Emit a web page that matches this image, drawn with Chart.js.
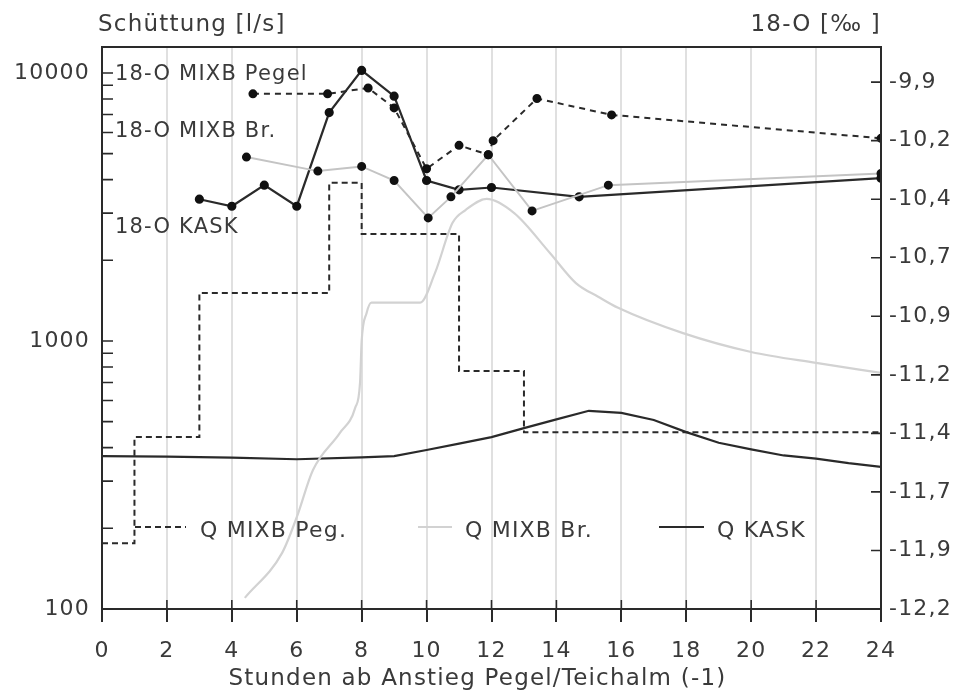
<!DOCTYPE html>
<html><head><meta charset="utf-8">
<script src="https://cdn.jsdelivr.net/npm/chart.js@4.4.1/dist/chart.umd.min.js"></script>
<style>html,body{margin:0;padding:0;background:#fff;}#wrap{position:relative;width:968px;height:692px;}</style>
</head><body><div id="wrap"><canvas id="c" width="968" height="692"></canvas></div>
<script>
// ---- data (hours after rise of gauge) ----
const hoursQPeg = [0, 1, 3, 7, 8, 11, 13, 24];
const qMixbPeg  = [176, 438, 1510, 3890, 2505, 773, 457, 457];

const hoursQBr = [4.4, 5.55, 6.0, 6.5, 7.33, 7.8, 7.95, 8.0, 8.15, 8.3, 9.8, 10.26, 10.8, 11.2, 11.85, 12.7, 13.8, 14.6, 15.3, 15.9, 17.9, 20, 22, 24];
const qMixbBr  = [110, 162, 220, 330, 454, 563, 700, 1000, 1270, 1390, 1390, 1795, 2760, 3080, 3390, 3000, 2130, 1645, 1460, 1330, 1070, 910, 828, 760];

const hoursQKask = [0, 2, 4, 6, 8, 9, 10, 11, 12, 13, 14, 15, 16, 17, 18, 19, 20, 21, 22, 23, 24];
const qKask      = [372, 370, 367, 362, 368, 372, 392, 414, 438, 473, 510, 549, 539, 507, 457, 417, 394, 374, 364, 350, 339];

const hoursOPeg    = [4.65, 6.95, 8.2, 9.0, 10.0, 11.0, 11.9, 12.05, 13.4, 15.7, 24];
const o18MixbPegel = [-10.0, -10.0, -9.975, -10.06, -10.32, -10.22, -10.26, -10.2, -10.02, -10.09, -10.19];

const hoursOBr  = [4.45, 6.65, 8.0, 9.0, 10.05, 10.75, 11.9, 13.25, 15.6, 24];
const o18MixbBr = [-10.27, -10.33, -10.31, -10.37, -10.53, -10.44, -10.26, -10.5, -10.39, -10.34];

const hoursOKask = [3, 4, 5, 6, 7, 8, 9, 10, 11, 12, 14.7, 24];
const o18Kask    = [-10.45, -10.48, -10.39, -10.48, -10.08, -9.9, -10.01, -10.37, -10.41, -10.4, -10.44, -10.36];

const leftTickValues  = [100,200,300,400,500,600,700,800,900,1000,2000,3000,4000,5000,6000,7000,8000,9000,10000];
const leftTickLabels  = {100:'100', 1000:'1000', 10000:'10000'};
const rightTickValues = [-12.2,-11.95,-11.7,-11.45,-11.2,-10.95,-10.7,-10.45,-10.2,-9.95];
const rightTickLabels = ['-12,2','-11,9','-11,7','-11,4','-11,2','-10,9','-10,7','-10,4','-10,2','-9,9'];

const xTitle = 'Stunden ab Anstieg Pegel/Teichalm (-1)';
const leftTitle = 'Schüttung [l/s]';
const rightTitle = '18-O [‰ ]';
const seriesNotes = ['18-O MIXB Pegel', '18-O MIXB Br.', '18-O KASK'];
const legendNames = ['Q MIXB Peg.', 'Q MIXB Br.', 'Q KASK'];

const pts = (xs, ys) => xs.map((x, i) => ({x: x, y: ys[i]}));
const FONT = 'DejaVu Sans';
const INK = '#2a2a2a';
const TXT = '#3a3a3a';
const SPACING = '1.2px';

const spacing = {
  id: 'spacing',
  beforeLayout(chart) { chart.ctx.letterSpacing = SPACING; },
  beforeDraw(chart) { chart.ctx.letterSpacing = SPACING; }
};

const decor = {
  id: 'decor',
  afterDraw(chart) {
    const ctx = chart.ctx, a = chart.chartArea;
    const xs = chart.scales.x, yl = chart.scales.y, yr = chart.scales.yR;
    ctx.save();
    ctx.letterSpacing = SPACING;
    // frame
    ctx.strokeStyle = INK; ctx.lineWidth = 2; ctx.setLineDash([]);
    ctx.strokeRect(a.left, a.top, a.right - a.left, a.bottom - a.top);
    // inner tick marks
    ctx.lineWidth = 1.6;
    ctx.beginPath();
    xs.ticks.forEach(t => { const px = xs.getPixelForValue(t.value); ctx.moveTo(px, a.bottom); ctx.lineTo(px, a.bottom - 9); });
    yl.ticks.forEach(t => { const py = yl.getPixelForValue(t.value); ctx.moveTo(a.left, py); ctx.lineTo(a.left + 11, py); });
    yr.ticks.forEach(t => { const py = yr.getPixelForValue(t.value); ctx.moveTo(a.right, py); ctx.lineTo(a.right - 10, py); });
    ctx.stroke();
    // titles
    ctx.fillStyle = TXT;
    ctx.font = '23px "' + FONT + '"';
    ctx.textBaseline = 'middle';
    ctx.textAlign = 'left';
    ctx.fillText(leftTitle, a.left - 4, 25);
    ctx.textAlign = 'right';
    ctx.fillText(rightTitle, a.right, 25);
    ctx.textAlign = 'center';
    ctx.fillText(xTitle, a.left + (a.right - a.left) * 0.482, 679);
    // series notes
    ctx.textAlign = 'left';
    ctx.font = '21px "' + FONT + '"';
    ctx.fillText(seriesNotes[0], a.left + 13, 75);
    ctx.fillText(seriesNotes[1], a.left + 13, 132);
    ctx.fillText(seriesNotes[2], a.left + 13, 228);
    // bottom legend
    ctx.font = '22px "' + FONT + '"';
    const ly = 527;
    ctx.lineWidth = 2;
    ctx.strokeStyle = INK; ctx.setLineDash([6, 4]);
    ctx.beginPath(); ctx.moveTo(a.left + 33, ly); ctx.lineTo(a.left + 84, ly); ctx.stroke();
    ctx.strokeStyle = '#d2d2d2'; ctx.setLineDash([]);
    ctx.beginPath(); ctx.moveTo(a.left + 316, ly); ctx.lineTo(a.left + 350, ly); ctx.stroke();
    ctx.strokeStyle = INK;
    ctx.beginPath(); ctx.moveTo(a.left + 557, ly); ctx.lineTo(a.left + 602, ly); ctx.stroke();
    ctx.fillText(legendNames[0], a.left + 98, ly + 4);
    ctx.fillText(legendNames[1], a.left + 363, ly + 4);
    ctx.fillText(legendNames[2], a.left + 615, ly + 4);
    ctx.restore();
  }
};

new Chart(document.getElementById('c'), {
  type: 'line',
  data: {
    datasets: [
      { label: seriesNotes[0], data: pts(hoursOPeg, o18MixbPegel), yAxisID: 'yR', borderColor: INK, borderWidth: 2, borderDash: [6, 5],
        pointRadius: 3.5, pointBackgroundColor: '#111', pointBorderColor: '#111', tension: 0 },
      { label: seriesNotes[1], data: pts(hoursOBr, o18MixbBr), yAxisID: 'yR', borderColor: '#c4c4c4', borderWidth: 2,
        pointRadius: 3.5, pointBackgroundColor: '#111', pointBorderColor: '#111', tension: 0 },
      { label: seriesNotes[2], data: pts(hoursOKask, o18Kask), yAxisID: 'yR', borderColor: INK, borderWidth: 2.2,
        pointRadius: 3.5, pointBackgroundColor: '#111', pointBorderColor: '#111', tension: 0 },
      { label: legendNames[0], data: pts(hoursQPeg, qMixbPeg), yAxisID: 'y', borderColor: INK, borderWidth: 2, borderDash: [6, 4],
        stepped: 'before', pointRadius: 0 },
      { label: legendNames[1], data: pts(hoursQBr, qMixbBr), yAxisID: 'y', borderColor: '#d2d2d2', borderWidth: 2.2,
        pointRadius: 0, tension: 0.2, cubicInterpolationMode: 'monotone' },
      { label: legendNames[2], data: pts(hoursQKask, qKask), yAxisID: 'y', borderColor: INK, borderWidth: 2.2,
        pointRadius: 0, tension: 0 }
    ]
  },
  options: {
    responsive: false,
    animation: false,
    devicePixelRatio: 1,
    layout: { padding: { top: 47, left: 0, right: 0, bottom: 0 } },
    plugins: { legend: { display: false }, tooltip: { enabled: false } },
    scales: {
      x: {
        type: 'linear', min: 0, max: 24,
        ticks: { stepSize: 2, color: TXT, font: { family: FONT, size: 22 }, padding: 16, maxRotation: 0 },
        grid: { color: 'rgba(0,0,0,0.12)', lineWidth: 2, tickColor: INK, tickLength: 13, drawOnChartArea: true },
        border: { display: false },
        title: { display: false, text: xTitle },
        afterFit: s => { s.height = 83; }
      },
      y: {
        type: 'logarithmic', position: 'left', min: 100, max: 12500,
        afterBuildTicks: s => { s.ticks = leftTickValues.map(v => ({ value: v })); },
        ticks: { autoSkip: false, color: TXT, font: { family: FONT, size: 22 }, padding: 12,
                 callback: v => leftTickLabels[v] || '' },
        grid: { drawOnChartArea: false, drawTicks: false },
        border: { display: false },
        afterFit: s => { s.width = 102; }
      },
      yR: {
        type: 'linear', position: 'right', min: -12.2, max: -9.8,
        afterBuildTicks: s => { s.ticks = rightTickValues.map(v => ({ value: v })); },
        ticks: { autoSkip: false, color: TXT, font: { family: FONT, size: 22 }, padding: 8,
                 callback: (v, i) => rightTickLabels[i] },
        grid: { drawOnChartArea: false, drawTicks: false },
        border: { display: false },
        afterFit: s => { s.width = 87; }
      }
    }
  },
  plugins: [spacing, decor]
});
</script>
</body></html>
